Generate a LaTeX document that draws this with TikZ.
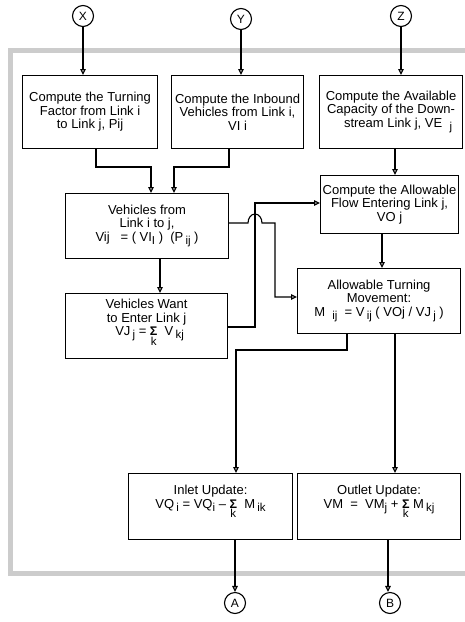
\documentclass[tikz,border=0pt]{standalone}
\usepackage{fontspec}
\setmainfont{Liberation Sans}
\usetikzlibrary{arrows.meta}
\newcommand{\sub}[1]{\raisebox{-0.5ex}{\fontsize{11.5}{11.5}\selectfont #1}}
\newcommand{\sumk}{\smash{\begin{tabular}[t]{@{}c@{}}\fontsize{12.5}{12}\selectfont\textbf{Σ}\\[-4pt]\fontsize{11.5}{11}\selectfont k\end{tabular}}}
\tikzset{
  box/.style={draw, line width=1.1pt, inner sep=1.5pt, align=center,
    font=\fontsize{13}{13.5}\selectfont, anchor=north west},
  arr/.style={line width=1.1pt, -{Triangle[width=5.5pt,length=6pt,fill=gray!45]}},
  term/.style={draw, circle, line width=1.1pt, minimum size=21pt, inner sep=0pt,
    font=\fontsize{12}{12}\selectfont},
  frame/.style={line width=5pt, draw=gray!40}
}
\begin{document}
\begin{tikzpicture}[x=1pt,y=-1pt]
\clip (0,0) rectangle (465,622);
\fill[white] (0,0) rectangle (465,622);
% outer frame (open on the right)
\draw[frame] (480,50.5) -- (10,50.5) -- (10,573) -- (480,573);
% terminals
\node[term] (X) at (83,16) {X};
\node[term] (Y) at (241,19) {Y};
\node[term] (Z) at (401,16) {Z};
\node[term] (A) at (235,603) {A};
\node[term] (B) at (390,603) {B};
% boxes
\node[box, minimum width=135pt, minimum height=73pt] (b1) at (22,75)
  {Compute the Turning\\Factor from Link i\\to Link j, Pij};
\node[box, minimum width=132pt, minimum height=73pt] (b2) at (171,75)
  {Compute the Inbound\\Vehicles from Link i,\\VI i};
\node[box, minimum width=143pt, minimum height=73pt] (b3) at (319,75)
  {Compute the Available\\Capacity of the Down-\\\hspace*{14pt}stream Link j, VE\ \ \sub{j}};
\node[box, minimum width=163pt, minimum height=65pt] (b4) at (65,193)
  {Vehicles from\\Link i to j,\\Vij\ \ \ = ( VI\sub{I} )\ \ (P\,\sub{ij} )};
\node[box, minimum width=138pt, minimum height=58pt] (b5) at (320,175)
  {Compute the Allowable\\Flow Entering Link j,\\VO j};
\node[box, minimum width=163pt, minimum height=65pt] (b6) at (297,268)
  {Allowable Turning\\Movement:\\M\ \ \sub{ij}\ \ = V\,\sub{ij} ( VOj / VJ\,\sub{j} )};
\node[box, minimum width=162pt, minimum height=65pt] (b7) at (65,293)
  {Vehicles Want\\to Enter Link j\\\hspace*{6pt}VJ\,\sub{j} = \sumk\ \ V\,\sub{kj}\\[4pt]};
\node[box, minimum width=164pt, minimum height=66pt] (b8) at (128,473)
  {Inlet Update:\\VQ\,\sub{i} = VQ\sub{i} -- \sumk\ \ M\,\sub{ik}\\[6pt]};
\node[box, minimum width=163pt, minimum height=66pt] (b9) at (297,473)
  {Outlet Update:\\VM\ \ =\ \ VM\sub{j} + \sumk\ M\,\sub{kj}\\[6pt]};
% connectors
\draw[arr] (X) -- (X |- b1.north);
\draw[arr] (Y) -- (Y |- b2.north);
\draw[arr] (Z) -- (Z |- b3.north);
\draw[arr] (96,0 |- b1.south) -- (96,167) -| (151,0 |- b4.north);
\draw[arr] (229,0 |- b2.south) -- (229,167) -| (174,0 |- b4.north);
\draw[arr] (395,0 |- b3.south) -- (395,0 |- b5.north);
\draw[arr] (160,0 |- b4.south) -- (160,0 |- b7.north);
\draw[arr] (382,0 |- b5.south) -- (382,0 |- b6.north);
\draw[arr] (b7.east |- 0,327) -- (255,327) |- (b5.west |- 0,203);
\draw[arr] (b4.east |- 0,223) -- (248,223)
  arc[start angle=180, end angle=0, x radius=7pt, y radius=9pt]
  -- (275,223) |- (b6.west |- 0,297);
\draw[arr] (347,0 |- b6.south) -- (347,350) -| (236,0 |- b8.north);
\draw[arr] (395,0 |- b6.south) -- (395,0 |- b9.north);
\draw[arr] (A |- b8.south) -- (A);
\draw[arr] (388,0 |- b9.south) -- (388,0 |- B.north);
\end{tikzpicture}
\end{document}
